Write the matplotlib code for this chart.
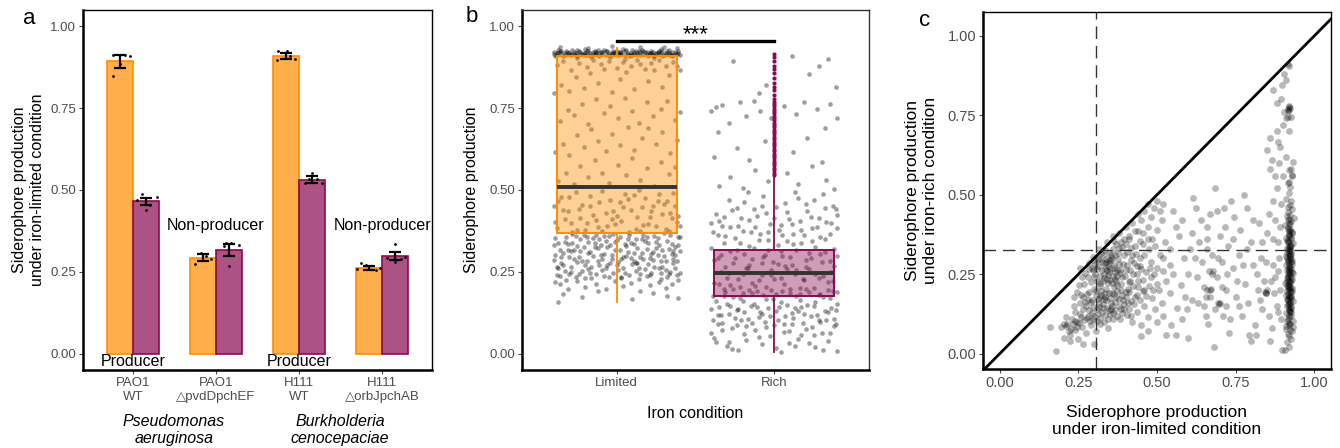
import matplotlib.pyplot as plt
from matplotlib.colors import to_rgba
from matplotlib.ticker import FormatStrFormatter

plt.rcParams['font.family'] = ['Liberation Sans', 'DejaVu Sans']

ORANGE = 'darkorange'
PINK = '#8B0A50'
GREY = '#4D4D4D'

# ---- panel a: bar chart, iron-limited condition ----
strains = ['PAO1\nWT', 'PAO1\n△pvdDpchEF', 'H111\nWT', 'H111\n△orbJpchAB']
species = ['Pseudomonas\naeruginosa', 'Burkholderia\ncenocepaciae']
roles = ['Producer', 'Non-producer', 'Producer', 'Non-producer']
lim_mean = [0.893, 0.293, 0.910, 0.261]
rich_mean = [0.465, 0.317, 0.532, 0.298]
lim_se = [0.019, 0.010, 0.010, 0.006]
rich_se = [0.011, 0.018, 0.010, 0.013]
# replicate dots: (x jitter in hundredths, value)
lim_reps = [
    [(-8, 0.914), (6, 0.912), (12, 0.908), (-8, 0.847), (0, 0.884)],
    [(-3, 0.309), (-10, 0.275), (3, 0.298), (10, 0.290)],
    [(-10, 0.925), (1, 0.926), (-11, 0.897), (11, 0.900), (5, 0.910)],
    [(-10, 0.277), (-4, 0.272), (8, 0.255), (-15, 0.258), (13, 0.262)],
]
rich_reps = [
    [(-4, 0.489), (13, 0.480), (-10, 0.468), (0, 0.440), (5, 0.455)],
    [(-3, 0.338), (3, 0.338), (12, 0.333), (0, 0.269), (-6, 0.328)],
    [(0, 0.552), (-8, 0.522), (12, 0.520), (6, 0.534), (-3, 0.535)],
    [(0, 0.335), (-10, 0.292), (12, 0.295), (0, 0.280), (7, 0.290)],
]

# ---- panel b: jittered points (x jitter in hundredths, value in thousandths) ----
lim_band = [(-40,921),(-38,914),(-37,927),(-35,918),(-34,909),(-32,924),(-31,916),(-29,911),(-28,928),
    (-26,919),(-25,908),(-23,923),(-22,915),(-20,930),(-19,912),(-17,920),(-16,906),(-14,926),(-13,917),
    (-11,910),(-10,922),(-8,929),(-7,913),(-5,919),(-4,907),(-2,925),(-1,916),(1,911),(2,923),(4,931),
    (5,914),(7,920),(8,908),(10,927),(11,917),(13,912),(14,924),(16,929),(17,915),(19,921),(20,909),
    (22,926),(23,913),(25,918),(26,922),(28,930),(29,910),(31,919),(32,925),(34,914),(35,908),(37,923),
    (38,917),(40,912),(-39,910),(-36,925),(-33,913),(-30,920),(-27,915),(-24,926),(-21,911),(-18,924),
    (-15,913),(-12,928),(-9,915),(-6,924),(-3,912),(0,926),(3,915),(6,927),(9,912),(12,925),(15,913),
    (18,923),(21,916),(24,910),(27,925),(30,914),(33,928),(36,912),(39,926),(-36,938),(-18,935),
    (-3,940),(15,936),(30,937),(38,934),(-25,902),(5,901),(24,903),
    (-40,916),(-37,920),(-35,926),(-33,918),(-31,922),(-29,916),(-27,921),(-25,927),(-23,917),(-21,920),
    (-19,925),(-17,914),(-15,921),(-13,922),(-11,918),(-9,921),(-7,925),(-5,914),(-3,920),(-1,922),
    (1,918),(3,921),(5,926),(7,915),(9,920),(11,922),(13,918),(15,921),(17,925),(19,916),(21,920),
    (23,922),(25,917),(27,920),(29,924),(31,915),(33,920),(35,922),(37,917),(39,920),(-38,919),
    (-26,913),(-14,919),(-2,918),(10,914),(22,918),(34,917),(-20,918),(2,917),(28,918)]
lim_mid = [(-38,385),(-33,412),(-29,398),(-24,441),(-20,377),(-15,425),(-11,463),(-6,390),(-2,436),
    (3,404),(7,472),(12,381),(16,447),(21,419),(25,389),(30,458),(34,430),(38,401),(-40,452),(-35,478),
    (-31,436),(-26,493),(-22,455),(-17,482),(-13,408),(-9,497),(-4,468),(0,421),(5,489),(9,440),
    (14,500),(18,475),(23,452),(27,488),(32,466),(36,492),(39,420),(-37,528),(-32,552),(-27,517),
    (-23,574),(-18,539),(-14,591),(-9,553),(-5,522),(1,577),(6,545),(10,599),(15,530),(19,567),
    (24,512),(28,586),(33,548),(37,571),(-39,615),(-34,642),(-30,608),(-25,667),(-21,630),(-16,685),
    (-12,651),(-7,619),(-3,672),(2,638),(7,694),(11,621),(16,659),(20,689),(25,640),(29,676),(34,612),
    (38,653),(-36,712),(-31,745),(-27,728),(-22,763),(-18,701),(-13,778),(-8,735),(-4,756),(1,719),
    (5,782),(10,740),(14,705),(19,768),(23,726),(28,749),(32,773),(37,715),(40,738),(-40,795),(-35,821),
    (-30,803),(-26,846),(-21,812),(-17,858),(-12,828),(-8,871),(-3,799),(2,839),(6,862),(11,810),
    (15,884),(20,833),(24,867),(29,815),(33,852),(38,879),(-38,882),(-34,894),(-29,868),(-24,889),
    (-19,876),(-15,897),(-10,885),(-5,893),(0,874),(4,891),(9,880),(13,896),(18,870),(22,888),(27,898),
    (31,878),(36,892),(40,866),
    (-39,402),(-34,438),(-28,371),(-23,415),(-17,450),(-12,386),(-7,429),(-1,395),(4,447),(8,373),
    (13,418),(17,392),(22,437),(26,467),(31,382),(35,413),(40,389),(-37,467),(-30,480),(-19,398),
    (-9,375),(2,462),(11,485),(20,395),(29,428),(37,450),(-25,378),(-3,410),(15,376),(33,375)]
lim_low = [(-39,352),(-36,318),(-33,341),(-30,296),(-28,365),(-25,330),(-22,284),(-19,355),(-17,312),
    (-14,338),(-11,271),(-8,360),(-6,325),(-3,301),(0,347),(3,289),(5,334),(8,362),(11,307),(13,278),
    (16,349),(19,320),(21,293),(24,358),(27,331),(29,264),(32,345),(35,303),(37,326),(40,357),
    (-40,287),(-37,262),(-34,308),(-31,336),(-29,248),(-26,359),(-23,315),(-20,270),(-18,342),
    (-15,297),(-12,322),(-9,255),(-7,344),(-4,276),(-1,316),(2,357),(4,262),(7,310),(9,338),(12,251),
    (15,296),(17,364),(20,274),(23,312),(25,340),(28,282),(31,255),(33,319),(36,276),(39,333),
    (-38,241),(-35,277),(-32,226),(-29,314),(-27,290),(-24,243),(-21,327),(-18,258),(-16,230),
    (-13,363),(-10,300),(-8,238),(-5,359),(-2,247),(1,281),(3,233),(6,299),(10,275),(12,350),(14,229),
    (18,258),(20,339),(22,245),(26,300),(28,227),(30,370),(34,249),(36,290),(38,240),(40,314),
    (-39,218),(-36,212),(-31,196),(-25,221),(-20,205),(-13,214),(-7,199),(-1,223),(4,208),(9,216),
    (15,192),(21,210),(27,219),(31,201),(35,213),(39,225),(-37,158),(-34,183),(-22,172),(10,166),
    (23,186),(32,176),(39,170),(-12,190),
    (-39,301),(-37,339),(-34,271),(-32,355),(-30,243),(-27,318),(-25,281),(-23,349),(-20,232),(-18,306),
    (-16,266),(-14,327),(-11,349),(-9,288),(-7,262),(-4,333),(-2,366),(0,270),(2,318),(5,247),(7,351),
    (9,291),(11,336),(14,262),(16,309),(18,344),(21,241),(23,286),(25,322),(27,263),(30,298),(32,233),
    (34,361),(36,315),(38,283),(40,246),(-40,331),(-38,266),(-35,296),(-33,252),(-31,317),(-28,339),
    (-26,234),(-24,296),(-21,361),(-19,283),(-17,245),(-15,352),(-12,284),(-10,331),(-8,305),(-5,233),
    (-3,288),(-1,340),(1,256),(4,296),(6,328),(8,239),(11,283),(13,322),(15,244),(17,289),(19,356),
    (22,305),(24,266),(26,354),(29,318),(31,283),(33,243),(35,335),(37,262),(39,355),(-36,236),
    (-29,266),(-22,251),(-13,243),(-6,271),(3,231),(12,276),(19,236),(28,247),(37,301)]
rich_pts = [(-38,48),(-33,72),(-29,35),(-24,88),(-19,61),(-14,95),(-10,52),(-5,80),(1,18),(6,67),
    (11,91),(15,44),(20,76),(25,58),(29,97),(34,39),(38,85),(40,7),(-27,15),(-8,28),(13,22),(31,12),
    (-36,92),(22,32),(-40,135),(-37,162),(-34,118),(-31,187),(-28,146),(-25,109),(-22,171),(-19,128),
    (-16,194),(-13,153),(-10,112),(-7,180),(-4,139),(-1,166),(2,104),(5,192),(8,149),(11,125),(14,176),
    (17,141),(20,198),(23,115),(26,158),(29,183),(32,131),(35,169),(38,107),(40,152),(-39,103),
    (-35,141),(-32,176),(-29,122),(-26,197),(-23,136),(-20,161),(-17,106),(-14,185),(-11,143),
    (-8,121),(-5,168),(-2,193),(1,130),(4,157),(7,114),(10,184),(13,139),(16,163),(19,120),(22,188),
    (25,145),(28,102),(31,172),(34,127),(37,190),(39,133),(-38,215),(-34,248),(-30,231),(-26,276),
    (-22,205),(-18,262),(-14,289),(-10,224),(-6,301),(-2,240),(2,273),(6,212),(10,295),(14,257),
    (18,228),(22,309),(26,244),(30,281),(34,219),(38,268),(-40,322),(-36,292),(-32,338),(-28,210),
    (-24,317),(-20,244),(-16,330),(-12,206),(-8,278),(-4,347),(0,229),(4,314),(8,259),(12,336),
    (16,202),(20,286),(24,343),(28,231),(32,311),(36,250),(40,298),(-39,372),(-35,405),(-31,358),
    (-27,438),(-23,389),(-19,462),(-15,371),(-11,421),(-7,483),(-3,396),(1,447),(5,362),(9,411),
    (13,493),(17,379),(21,436),(25,468),(29,355),(33,402),(37,451),(40,384),(-37,427),(-33,391),
    (-29,470),(-25,353),(-21,414),(-17,495),(-13,443),(-9,367),(-5,430),(3,378),(7,459),(11,396),
    (15,476),(19,361),(23,418),(27,387),(31,489),(35,366),(39,441),(-35,513),(-28,541),(-20,507),
    (-12,562),(-4,528),(8,551),(15,519),(24,574),(33,532),(38,503),(-38,602),(-24,628),(-16,593),
    (-6,649),(12,615),(21,660),(30,585),(-40,742),(-33,760),(-29,705),(-22,768),(-18,726),(-9,742),
    (-2,719),(6,757),(14,733),(19,770),(27,748),(35,764),(40,721),(-13,771),(32,689),(-36,676),
    (-5,820),(22,855),(-37,755),(-10,795),(34,900),(28,880),(-26,893),(11,910),(39,816),
    (-40,62),(-36,118),(-33,94),(-30,151),(-27,78),(-24,132),(-21,104),(-18,83),(-15,147),(-12,71),
    (-9,128),(-6,98),(-3,115),(0,86),(3,143),(6,92),(9,69),(12,108),(15,131),(18,95),(21,150),(24,81),
    (27,119),(30,64),(33,103),(36,138),(39,90),(-39,176),(-35,212),(-32,196),(-29,245),(-26,173),
    (-23,228),(-20,186),(-17,263),(-14,217),(-11,190),(-8,239),(-5,205),(-2,256),(1,182),(4,231),
    (7,268),(10,199),(13,244),(16,183),(19,226),(22,260),(25,201),(28,178),(31,238),(34,193),(37,222),
    (40,187),(-38,285),(-34,302),(-31,266),(-28,314),(-25,291),(-22,337),(-19,305),(-16,271),(-13,323),
    (-10,348),(-7,296),(-4,318),(-1,280),(2,331),(5,299),(8,344),(11,270),(14,318),(17,339),(20,264),
    (23,292),(26,326),(29,305),(32,349),(35,284),(38,320),(-40,398),(-36,361),(-32,419),(-28,386),
    (-24,445),(-20,374),(-16,409),(-12,388),(-8,452),(-4,371),(0,415),(4,392),(8,432),(12,366),
    (16,405),(20,458),(24,383),(28,414),(32,445),(36,398),(40,425),(-37,37),(-30,22),(-18,41),(-3,54),
    (9,33),(17,58),(26,20),(35,64),(-23,12),(4,5)]
rich_out = [0.545, 0.552, 0.560, 0.568, 0.575, 0.582, 0.590, 0.597, 0.604, 0.611, 0.619, 0.626,
            0.633, 0.641, 0.648, 0.655, 0.662, 0.670, 0.677, 0.684, 0.691, 0.698, 0.706, 0.713,
            0.720, 0.727, 0.735, 0.742, 0.749, 0.756, 0.763, 0.770, 0.778, 0.790, 0.805, 0.816,
            0.828, 0.843, 0.857, 0.869, 0.880, 0.893, 0.905, 0.916]
conditions = ['Limited', 'Rich']
lim_box = dict(med=0.510, q1=0.368, q3=0.910, whislo=0.157, whishi=0.935, fliers=[])
rich_box = dict(med=0.247, q1=0.177, q3=0.318, whislo=0.005, whishi=0.540, fliers=rich_out)

# ---- panel c: limited (x) vs rich (y), thousandths ----
c_main = [(300,240),(310,265),(318,222),(325,290),(332,250),(338,205),(345,275),(352,232),(358,300),
    (365,258),(372,215),(380,282),(388,240),(395,310),(402,262),(410,225),(418,295),(305,185),(315,160),
    (322,198),(330,172),(340,145),(348,190),(355,160),(362,210),(370,178),(378,150),(385,200),(392,170),
    (400,195),(408,160),(415,230),(300,205),(312,298),(328,312),(336,325),(347,318),(360,330),(376,316),
    (390,335),(405,320),(420,310),(345,248),(352,268),(363,280),(356,224),(341,236),(334,270),(374,245),
    (383,262),(320,245),(296,262),(290,225),(285,195),(280,240),(295,170),(308,140),(326,130),(350,125),
    (368,138),(390,128),(412,140),(430,180),(425,250),(435,275),(440,210),(445,300),(450,265),
    (180,10),(195,85),(205,50),(215,95),(222,60),(230,110),(238,75),(245,100),(250,45),(256,125),
    (262,85),(268,105),(275,65),(282,120),(290,90),(298,110),(305,70),(312,125),(320,95),(240,130),
    (225,40),(210,115),(265,30),(160,85),(300,30),(330,100),(345,80),(360,110),(275,150),(255,160),
    (235,150),(265,180),(280,170),(255,270),(270,255),(285,285),(300,295),(315,330),(340,350),
    (360,370),(370,345),(380,380),(395,360),(400,400),(410,370),(420,410),(430,385),(440,440),
    (450,420),(460,450),(470,470),(480,430),(490,460),(500,480),(510,450),(520,470),(455,380),
    (470,400),(485,360),(500,390),(515,420),(430,340),(445,355),(475,330),(495,340),(510,310),
    (525,350),(540,330),(460,310),(480,290),(500,270),(520,300),(540,280),(550,450),(420,100),
    (435,130),(448,90),(460,150),(472,115),(485,175),(495,140),(505,200),(515,160),(528,230),
    (540,190),(552,250),(565,145),(575,215),(450,55),(470,70),(500,100),(520,120),(545,90),(560,60),
    (580,110),(440,230),(460,200),(480,240),(500,220),(520,260),(530,60),(590,180),(342,262),
    (348,285),(366,236),(336,180),(358,192),(372,262),(328,228),(318,180),(338,298),(354,310),
    (302,252),(308,228),(314,276),(320,212),(326,262),(331,238),(337,289),(343,221),(349,256),
    (354,296),(359,243),(364,271),(369,229),(375,298),(381,255),(386,218),(392,283),(398,246),
    (404,279),(409,205),(414,262),(306,196),(311,173),(317,148),(323,186),(329,157),(334,192),
    (339,168),(346,139),(351,176),(357,149),(363,188),(368,163),(373,197),(379,171),(384,141),
    (389,186),(396,155),(403,178),(411,193),(418,165),(424,212),(296,148),(289,162),(283,137),
    (277,189),(271,162),(266,141),(260,117),(252,96),(246,83),(240,104),(233,92),(227,78),(219,72),
    (212,88),(203,92),(278,112),(286,104),(293,129),(301,118),(309,102),(318,113),(327,143),(336,122),
    (344,108),(353,142),(361,128),(373,119),(382,108),(394,142),(405,121),(417,118),(428,157),
    (437,184),(446,170),(455,196),(464,182),(475,213),(488,201),(437,250),(428,284),(447,277),
    (456,233),(466,256),(478,271),(492,252),(433,315),(418,332),(402,345),(385,350),(366,312),
    (347,296),(331,286),(316,299),(302,281),(292,270),(322,318),(362,355),(378,332),(412,360),
    (440,385),(455,345),(470,360),(268,218),(262,242),(252,215),(245,195),(258,185),(235,178),
    (285,265),(298,303)]
c_mid = [(600,250),(610,380),(620,300),(630,160),(640,420),(650,210),(660,330),(665,260),(670,180),
    (675,250),(680,20),(690,450),(695,160),(700,370),(705,290),(710,120),(715,400),(720,200),(725,340),
    (730,65),(740,270),(745,430),(750,180),(760,310),(765,390),(770,120),(780,220),(785,460),(790,160),
    (800,350),(805,280),(810,90),(820,200),(825,410),(830,300),(835,140),(840,230),(845,190),(850,380),
    (855,440),(595,140),(615,490),(635,350),(655,120),(685,520),(735,480),(775,500),(800,40),(815,60),
    (600,50),(655,180),(660,200),(720,150),(690,240),(660,400),(670,440),(668,200),(672,205),(678,260),
    (842,195),(848,190),(700,160),(697,158),(625,460),(580,420),(560,400),(570,370),(880,150),
    (870,280),(885,350),(875,420),(890,200),(865,80),(895,470),(880,520),(860,40),(888,300),(875,240),
    (895,110),(870,360),(850,200),(885,130),(870,480),(890,400),
    (585,300),(605,330),(612,170),(628,240),(642,290),(648,150),(658,360),(662,95),(676,310),(683,140),
    (693,300),(708,210),(712,460),(724,250),(733,110),(742,360),(755,230),(762,150),(773,280),(786,330),
    (792,60),(806,420),(818,250),(826,170),(833,350),(846,290),(856,120),(862,230),(872,190),(886,260)]
c_col = [(921,22),(914,38),(926,47),(917,63),(929,71),(911,86),(923,93),(931,104),(915,109),(925,118),
    (909,127),(919,133),(927,144),(913,151),(921,155),(933,166),(917,169),(925,181),(911,184),(922,193),
    (929,197),(915,208),(924,211),(907,223),(920,226),(928,236),(913,239),(921,251),(931,253),(918,264),
    (926,267),(911,279),(919,281),(930,292),(915,296),(923,306),(909,309),(920,320),(927,324),(913,334),
    (922,337),(931,349),(917,351),(925,362),(911,365),(921,376),(929,379),(915,391),(924,393),(908,404),
    (919,412),(927,418),(913,432),(923,438),(929,455),(917,463),(926,481),(911,488),(920,507),(924,523),
    (916,538),(928,562),(920,578),(931,602),(923,468),(918,148),(924,178),(916,213),(926,242),(918,262),
    (922,302),(924,328),(916,357),(920,141),(914,102),(926,131),(912,172),(928,207),(914,228),(928,283),
    (912,318),(926,368),(918,387),(922,248),(924,162),(916,188),(920,219),(918,122),(906,12),(909,78),
    (931,83),(934,428),(896,11),(920,270),(916,290),(925,315),(919,340),(921,200),(917,240),
    (919,115),(923,137),(917,158),(925,174),(913,196),(921,214),(927,229),(915,246),(923,258),(919,276),
    (925,288),(912,302),(922,311),(918,327),(926,341),(914,356),(920,371),(928,384),(916,399),(924,407),
    (920,424),(916,445),(922,159),(918,183),(924,203),(920,233),(916,255),(922,272),(926,297),(918,313),
    (924,338),(920,352),(918,372),(922,132),(914,216),(928,258),(912,263),(926,193),(918,91),(922,75),
    (920,57),(916,420),(924,385),(920,96),(919,295),(921,180),(923,225),(917,330),(925,150),(915,170)]
c_top = [(850,640),(865,610),(880,700),(890,650),(900,720),(905,760),(910,740),(915,770),(918,775),
    (920,768),(922,772),(917,765),(921,778),(925,745),(915,745),(880,790),(895,800),(905,880),(915,910),
    (920,905),(900,560),(875,560),(860,580),(888,600),(910,620),(920,540),(930,560),(870,830),(898,845),
    (910,860),(885,665),(860,680),(920,700),(925,580)]
c_vline = 0.307
c_hline = 0.325

W, H = 1340, 448
fig = plt.figure(figsize=(W / 100, H / 100), dpi=100)


def box(x0, y0, x1, y1):
    return [x0 / W, 1 - y1 / H, (x1 - x0) / W, (y1 - y0) / H]


def style_axes(ax, thin_col='black', size=9.5):
    for s in ['left', 'bottom']:
        ax.spines[s].set_linewidth(1.8)
        ax.spines[s].set_color('black')
    for s in ['top', 'right']:
        ax.spines[s].set_linewidth(1.0)
        ax.spines[s].set_color(thin_col)
    ax.tick_params(colors=GREY, labelsize=size, length=3, width=0.8, pad=2)


ticks = [0, 0.25, 0.5, 0.75, 1.0]

# ---------------- a ----------------
ax = fig.add_axes(box(83, 10, 432, 370))
bw = 0.31
for i in range(4):
    xl = i + 1 - bw / 2
    xr = i + 1 + bw / 2
    ax.bar(xl, lim_mean[i], width=bw, color=to_rgba(ORANGE, 0.7), edgecolor=ORANGE, lw=1.2)
    ax.bar(xr, rich_mean[i], width=bw, color=to_rgba(PINK, 0.7), edgecolor=PINK, lw=1.2)
    ax.errorbar([xl, xr], [lim_mean[i], rich_mean[i]], yerr=[lim_se[i], rich_se[i]], fmt='none',
                ecolor='black', elinewidth=1.6, capsize=4, capthick=1.6, zorder=3)
    for dx, v in lim_reps[i]:
        ax.scatter(xl + dx / 100, v, s=4, color='black', zorder=4, linewidths=0)
    for dx, v in rich_reps[i]:
        ax.scatter(xr + dx / 100, v, s=4, color='black', zorder=4, linewidths=0)
    if roles[i] == 'Producer':
        ax.text(i + 1, -0.025, roles[i], ha='center', va='center', fontsize=11.5)
    else:
        ax.text(i + 1, 0.39, roles[i], ha='center', va='center', fontsize=11.5)
ax.set_xlim(0.4, 4.6)
ax.set_ylim(-0.05, 1.05)
ax.set_xticks(range(1, 5))
ax.set_xticklabels(strains, linespacing=1.25)
ax.set_yticks(ticks)
ax.yaxis.set_major_formatter(FormatStrFormatter('%.2f'))
ax.set_ylabel('Siderophore production\nunder iron-limited condition', fontsize=11.5)
ax.yaxis.set_label_coords(-0.11, 0.5)
style_axes(ax)
fig.text(174 / W, 1 - 430 / H, species[0], ha='center', va='center', fontsize=11.5, style='italic')
fig.text(340 / W, 1 - 430 / H, species[1], ha='center', va='center', fontsize=11.5, style='italic')
fig.text(29 / W, 1 - 18 / H, 'a', ha='center', va='center', fontsize=16)

# ---------------- b ----------------
ax = fig.add_axes(box(522, 10, 869, 370))
for group in [lim_band, lim_mid, lim_low]:
    ax.scatter([1 + d / 100 for d, v in group], [v / 1000 for d, v in group],
               s=11, color='black', alpha=0.38, linewidths=0, zorder=1)
ax.scatter([2 + d / 100 for d, v in rich_pts], [v / 1000 for d, v in rich_pts],
           s=11, color='black', alpha=0.38, linewidths=0, zorder=1)
for pos, st, col in [(1, lim_box, ORANGE), (2, rich_box, PINK)]:
    ax.bxp([st], positions=[pos], widths=0.76, patch_artist=True, showcaps=False,
           manage_ticks=False, zorder=2,
           boxprops=dict(facecolor=to_rgba(col, 0.4), edgecolor=col, linewidth=1.4),
           whiskerprops=dict(color=col, linewidth=1.3),
           medianprops=dict(color='#333333', linewidth=2.8),
           flierprops=dict(marker='o', markersize=3, markerfacecolor=col, markeredgecolor='none'))
ax.plot([1, 2], [0.955, 0.955], color='black', lw=2.4)
ax.text(1.5, 0.975, '***', ha='center', va='center', fontsize=16)
ax.set_xlim(0.4, 2.6)
ax.set_ylim(-0.05, 1.05)
ax.set_xticks([1, 2])
ax.set_xticklabels(conditions)
ax.set_yticks(ticks)
ax.yaxis.set_major_formatter(FormatStrFormatter('%.2f'))
ax.set_xlabel('Iron condition', fontsize=11.5)
ax.xaxis.set_label_coords(0.5, -0.1)
ax.set_ylabel('Siderophore production', fontsize=11.5)
ax.yaxis.set_label_coords(-0.125, 0.5)
style_axes(ax, thin_col='#333333')
fig.text(472 / W, 1 - 17 / H, 'b', ha='center', va='center', fontsize=16)

# ---------------- c ----------------
ax = fig.add_axes(box(983, 12, 1331, 369))
for group in [c_main, c_mid, c_col, c_top]:
    ax.scatter([x / 1000 for x, y in group], [y / 1000 for x, y in group],
               s=24, color='black', alpha=0.28, linewidths=0)
ax.axline((0, 0), slope=1, color='black', lw=2)
ax.axvline(c_vline, color='#333333', lw=1, dashes=(9, 5))
ax.axhline(c_hline, color='#333333', lw=1, dashes=(9, 5))
ax.set_xlim(-0.053, 1.053)
ax.set_ylim(-0.048, 1.075)
ax.set_xticks(ticks)
ax.set_yticks(ticks)
ax.xaxis.set_major_formatter(FormatStrFormatter('%.2f'))
ax.yaxis.set_major_formatter(FormatStrFormatter('%.2f'))
ax.set_xlabel('Siderophore production\nunder iron-limited condition', fontsize=12.5)
ax.xaxis.set_label_coords(0.5, -0.1)
ax.set_ylabel('Siderophore production\nunder iron-rich condition', fontsize=12.5)
ax.yaxis.set_label_coords(-0.13, 0.5)
style_axes(ax, size=10.5)
fig.text(925 / W, 1 - 20 / H, 'c', ha='center', va='center', fontsize=16)

fig.savefig('out.png', dpi=100)
